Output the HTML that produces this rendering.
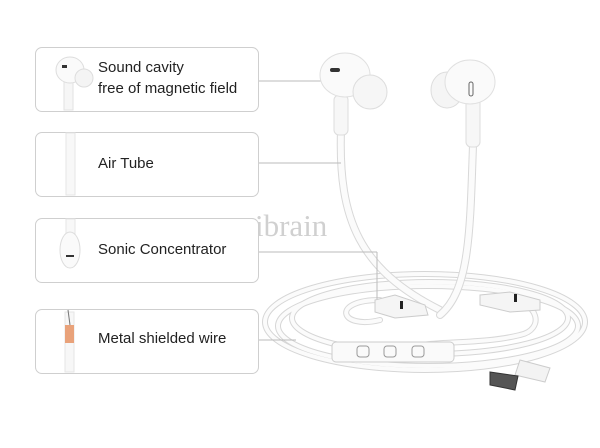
<!DOCTYPE html>
<html><head><style>
body{margin:0;width:600px;height:448px;background:#fff;overflow:hidden;position:relative;font-family:"Liberation Sans",sans-serif}
.box{position:absolute;left:35px;width:222px;border:1px solid #cfcfcf;border-radius:7px;background:#fff}
.t{position:absolute;left:98px;font-size:15px;color:#222;line-height:21px}
</style></head><body>
<svg width="600" height="448" style="position:absolute;left:0;top:0">
<text x="255" y="236" font-family="Liberation Serif,serif" font-size="31" fill="#d0d0d0">ibrain</text>
<g fill="none" stroke-linecap="round">
<g stroke="#d6d6d6" stroke-width="6">
<ellipse cx="425" cy="322" rx="160" ry="48"/>
<ellipse cx="428" cy="326" rx="150" ry="40"/>
<ellipse cx="430" cy="318" rx="138" ry="36"/>
</g>
<g stroke="#fbfbfb" stroke-width="4">
<ellipse cx="425" cy="322" rx="160" ry="48"/>
<ellipse cx="428" cy="326" rx="150" ry="40"/>
<ellipse cx="430" cy="318" rx="138" ry="36"/>
</g>
<path d="M341 130 C338 220 360 270 440 310" stroke="#d8d8d8" stroke-width="8"/>
<path d="M341 130 C338 220 360 270 440 310" stroke="#fbfbfb" stroke-width="6"/>
<path d="M473 145 C470 230 470 290 440 315" stroke="#d8d8d8" stroke-width="8"/>
<path d="M473 145 C470 230 470 290 440 315" stroke="#fbfbfb" stroke-width="6"/>
<path d="M380 300 C330 300 340 330 380 320 M505 300 C540 300 545 330 520 335 C480 345 430 340 410 348" stroke="#d8d8d8" stroke-width="6"/>
<path d="M380 300 C330 300 340 330 380 320 M505 300 C540 300 545 330 520 335 C480 345 430 340 410 348" stroke="#fbfbfb" stroke-width="4"/>
</g>
<g stroke="#bbb" stroke-width="1">
<line x1="258" y1="81" x2="338" y2="81"/>
<line x1="258" y1="163" x2="341" y2="163"/>
<line x1="258" y1="252" x2="377" y2="252"/>
<line x1="377" y1="252" x2="377" y2="300"/>
<line x1="258" y1="340" x2="296" y2="340"/>
</g>
<rect x="334" y="95" width="14" height="40" rx="5" fill="#f7f7f7" stroke="#ddd"/>
<ellipse cx="345" cy="75" rx="25" ry="22" fill="#fafafa" stroke="#e0e0e0"/>
<ellipse cx="370" cy="92" rx="17" ry="17" fill="#f6f6f6" stroke="#ddd"/>
<rect x="330" y="68" width="10" height="4" rx="2" fill="#333"/>
<rect x="466" y="95" width="14" height="52" rx="5" fill="#f7f7f7" stroke="#ddd"/>
<ellipse cx="447" cy="90" rx="16" ry="18" fill="#f5f5f5" stroke="#ddd"/>
<ellipse cx="470" cy="82" rx="25" ry="22" fill="#fafafa" stroke="#e0e0e0"/>
<rect x="469" y="82" width="4" height="14" rx="2" fill="none" stroke="#666"/>
<path d="M375 300 L395 295 L425 305 L428 315 L395 318 L375 312Z" fill="#f5f5f5" stroke="#ccc"/>
<rect x="400" y="301" width="3" height="8" fill="#222"/>
<path d="M480 295 L510 292 L540 300 L540 310 L510 312 L480 305Z" fill="#f5f5f5" stroke="#ccc"/>
<rect x="514" y="294" width="3" height="8" fill="#222"/>
<rect x="332" y="342" width="122" height="20" rx="4" fill="#fafafa" stroke="#ccc"/>
<rect x="357" y="346" width="12" height="11" rx="3" fill="none" stroke="#999"/>
<rect x="384" y="346" width="12" height="11" rx="3" fill="none" stroke="#999"/>
<rect x="412" y="346" width="12" height="11" rx="3" fill="none" stroke="#999"/>
<path d="M520 360 L550 368 L545 382 L515 375Z" fill="#f3f3f3" stroke="#ccc"/>
<path d="M490 372 L518 376 L515 390 L490 385Z" fill="#555" stroke="#333"/>
</svg>
<div class="box" style="top:47px;height:63px"></div>
<div class="box" style="top:132px;height:63px"></div>
<div class="box" style="top:218px;height:63px"></div>
<div class="box" style="top:309px;height:63px"></div>
<svg width="260" height="448" style="position:absolute;left:0;top:0">
<rect x="64" y="80" width="9" height="30" fill="#f6f6f6" stroke="#e2e2e2"/>
<ellipse cx="70" cy="70" rx="14" ry="13" fill="#fafafa" stroke="#ddd"/>
<ellipse cx="84" cy="78" rx="9" ry="9" fill="#f4f4f4" stroke="#ddd"/>
<rect x="62" y="65" width="5" height="3" fill="#333"/>
<rect x="66" y="133" width="9" height="62" fill="#f8f8f8" stroke="#e6e6e6"/>
<rect x="66" y="219" width="9" height="15" fill="#f8f8f8" stroke="#e6e6e6"/>
<ellipse cx="70" cy="250" rx="10" ry="18" fill="#fafafa" stroke="#ddd"/>
<rect x="66" y="255" width="8" height="2" fill="#333"/>
<rect x="65" y="312" width="9" height="60" fill="#f7f7f7" stroke="#e6e6e6"/>
<rect x="65" y="325" width="9" height="18" fill="#e9a27a"/>
<line x1="68" y1="310" x2="70" y2="325" stroke="#777"/>
</svg>
<div class="t" style="top:57px">Sound cavity<br>free of magnetic field</div>
<div class="t" style="top:153px">Air Tube</div>
<div class="t" style="top:239px">Sonic Concentrator</div>
<div class="t" style="top:328px">Metal shielded wire</div>
</body></html>
